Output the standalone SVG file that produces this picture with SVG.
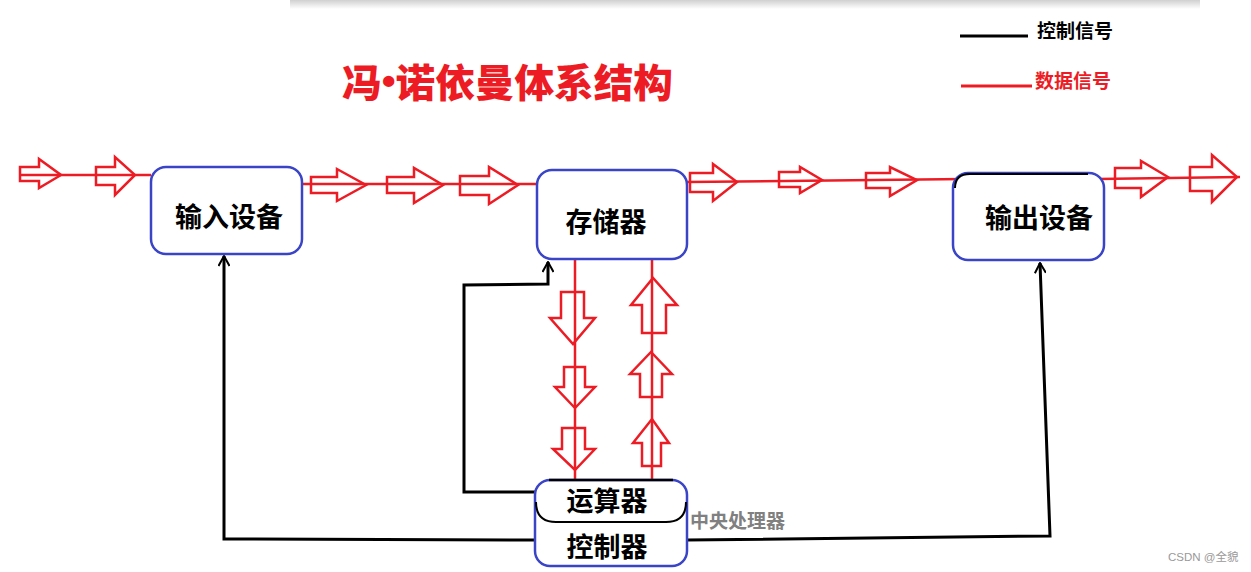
<svg xmlns="http://www.w3.org/2000/svg" width="1251" height="572" viewBox="0 0 1251 572">
<defs>
<linearGradient id="shadow" x1="0" y1="0" x2="0" y2="1">
<stop offset="0" stop-color="#d0d0d0"/>
<stop offset="1" stop-color="#ffffff"/>
</linearGradient>
<marker id="open" viewBox="0 0 12 12" refX="11" refY="6" markerWidth="12" markerHeight="12" markerUnits="userSpaceOnUse" orient="auto">
<path d="M1,0.5 L11,6 L1,11.5" fill="none" stroke="#000" stroke-width="2"/>
</marker>
</defs>
<style>
.box{fill:#fff;stroke:#3a44c6;stroke-width:2.5}
.lbl{font-family:"Noto Sans CJK SC","Noto Sans",sans-serif;font-weight:bold;font-size:27px;fill:#000;text-anchor:middle;dominant-baseline:central}
.ctl{fill:none;stroke:#000;stroke-width:3;stroke-linejoin:miter}
.data{fill:none;stroke:#ed1c24;stroke-width:2.5}
.arr{fill:none;stroke:#ed1c24;stroke-width:2.5;stroke-linejoin:miter}
.leg{font-family:"Noto Sans CJK SC","Noto Sans",sans-serif;font-weight:bold;font-size:19px;dominant-baseline:central}
</style>
<rect width="1251" height="572" fill="#fff"/>
<rect x="290" y="0" width="910" height="9" fill="url(#shadow)"/>

<g id="title">
<text x="342" y="80" font-family="'Noto Sans CJK SC',sans-serif" font-weight="900" font-size="39" fill="#ed1c24" dominant-baseline="central" textLength="331" lengthAdjust="spacingAndGlyphs">冯<tspan font-family="'Liberation Sans',sans-serif">•</tspan>诺依曼体系结构</text>
</g>

<g id="legend">
<line x1="960" y1="36" x2="1028" y2="36" stroke="#000" stroke-width="3"/>
<text class="leg" x="1037" y="29" fill="#000">控制信号</text>
<line x1="961" y1="86" x2="1032" y2="86" stroke="#ed1c24" stroke-width="3"/>
<text class="leg" x="1035" y="79" fill="#ed1c24">数据信号</text>
</g>

<g id="connectors">
<line class="data" x1="20" y1="175" x2="151" y2="175"/>
<line class="data" x1="302" y1="184" x2="537" y2="184"/>
<line class="data" x1="687" y1="182" x2="965" y2="179"/>
<line class="data" x1="1097" y1="179" x2="1240" y2="177"/>
<line class="data" x1="575" y1="259" x2="575" y2="479"/>
<line class="data" x1="652" y1="259" x2="652" y2="479"/>
<polygon class="arr" points="20,167 39,167 39,159 61,175 39,188 39,181 20,181"/>
<polygon class="arr" points="96,167 115,167 115,157 135,175 115,195 115,185 96,185"/>
<polygon class="arr" points="311,177 337,177 337,169 366,185 337,201 337,193 311,193"/>
<polygon class="arr" points="387,177 414,177 414,168 443,185 414,203 414,193 387,193"/>
<polygon class="arr" points="460,176 489,176 489,167 518,185 489,204 489,195 460,195"/>
<polygon class="arr" points="690,173 713,173 713,164 737,182 713,201 713,192 690,192"/>
<polygon class="arr" points="779,172 800,172 800,167 822,180 800,193 800,187 779,187"/>
<polygon class="arr" points="866,173 890,173 890,167 917,180 890,196 890,188 866,188"/>
<polygon class="arr" points="1115,168 1141,168 1141,161 1168,177 1141,197 1141,188 1115,188"/>
<polygon class="arr" points="1190,167 1212,167 1212,155 1237,177 1212,202 1212,191 1190,191"/>
<polygon class="arr" points="561,292 584,292 584,318 595,318 573,344 550,318 561,318"/>
<polygon class="arr" points="564,367 585,367 585,387 595,387 575,408 555,387 564,387"/>
<polygon class="arr" points="562,428 585,428 585,449 595,449 575,470 553,449 562,449"/>
<polygon class="arr" points="642,333 666,333 666,305 677,305 653,278 631,305 642,305"/>
<polygon class="arr" points="640,397 662,397 662,374 672,374 651,352 630,374 640,374"/>
<polygon class="arr" points="642,466 661,466 661,443 669,443 652,419 633,443 642,443"/>
<polyline class="ctl" points="535,492 464,492 464,285 548,284 548,262" marker-end="url(#open)"/>
<polyline class="ctl" points="535,540 224,539 224,256" marker-end="url(#open)"/>
<polyline class="ctl" points="687,540 1050,536 1040,263" marker-end="url(#open)"/>
</g>

<g id="input">
<rect class="box" x="151" y="167" width="151" height="87" rx="15"/>
<text class="lbl" x="229" y="215">输入设备</text>
</g>

<g id="memory">
<rect class="box" x="537" y="170" width="150" height="89" rx="15"/>
<text class="lbl" x="606" y="220">存储器</text>
</g>

<g id="output">
<rect class="box" x="953" y="173" width="151" height="87" rx="15"/>
<path d="M955,188 Q955,174 970,174 L1088,174" fill="none" stroke="#000" stroke-width="2"/>
<text class="lbl" x="1039" y="216">输出设备</text>
</g>

<g id="cpu">
<rect class="box" x="535" y="480" width="152" height="86" rx="15"/>
<path d="M549,480 L673,480" stroke="#000" stroke-width="2.5"/>
<path d="M536,502 Q536,522 556,522 L666,522 Q686,522 686,502" fill="none" stroke="#000" stroke-width="2"/>
<text class="lbl" x="607" y="499">运算器</text>
<text class="lbl" x="607" y="545">控制器</text>
<text x="690" y="519" font-family="'Noto Sans CJK SC',sans-serif" font-weight="bold" font-size="19" fill="#808080" dominant-baseline="central">中央处理器</text>
</g>

<text x="1168" y="557" font-family="'Liberation Sans','Noto Sans CJK SC',sans-serif" font-size="11.5" fill="#999" dominant-baseline="central">CSDN @全貌</text>
</svg>
